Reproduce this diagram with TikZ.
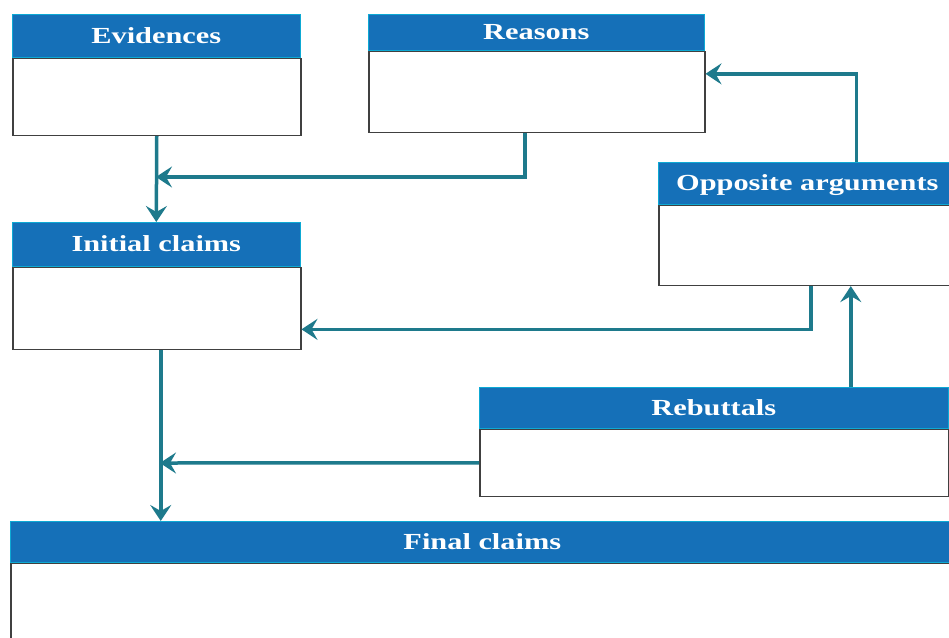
\documentclass[tikz,border=0pt]{standalone}
\usepackage{fontspec}
\setmainfont[FakeStretch=1.32]{Liberation Serif}
\usepackage{tikz}
\usetikzlibrary{arrows.meta, positioning, calc}

\definecolor{headblue}{RGB}{21,112,184}
\definecolor{linkteal}{RGB}{30,122,140}

\tikzset{
    head/.style={fill=headblue, draw=headblue!60!cyan, line width=0.6pt, text=white,
        font=\bfseries\fontsize{23}{27}\selectfont, text height=15pt, text depth=0pt,
        inner sep=0pt, anchor=north west},
    body/.style={fill=white, draw=black!75, line width=1.5pt, inner sep=0pt, anchor=north west},
    link/.style={draw=linkteal, line width=3.5pt,
        -{Stealth[length=16pt, width=21pt, inset=6pt]}}
}

\begin{document}
\begin{tikzpicture}[x=1pt, y=-1pt]
\useasboundingbox (0,0) rectangle (949,637);
\fill[white] (0,0) rectangle (949,637);
\clip (0,0) rectangle (949,637);

% boxes: header + body
\node[head, minimum width=288pt, minimum height=43pt] (evh) at (12,14) {Evidences};
\node[body, minimum width=288pt, minimum height=77pt] (evb) at (evh.south west) {};

\node[head, minimum width=336pt, minimum height=36pt] (reah) at (368,14) {Reasons};
\node[body, minimum width=336pt, minimum height=81pt] (reab) at (reah.south west) {};

\node[head, minimum width=298pt, minimum height=42pt] (opph) at (658,162) {Opposite arguments};
\node[body, minimum width=298pt, minimum height=80pt] (oppb) at (opph.south west) {};

\node[head, minimum width=288pt, minimum height=44pt] (inih) at (12,222) {Initial claims};
\node[body, minimum width=288pt, minimum height=82pt] (inib) at (inih.south west) {};

\node[head, minimum width=469pt, minimum height=41pt] (rebh) at (479,387) {Rebuttals};
\node[body, minimum width=469pt, minimum height=67pt] (rebb) at (rebh.south west) {};

\node[head, minimum width=944pt, minimum height=41pt] (finh) at (10,521) {Final claims};
\node[body, minimum width=944pt, minimum height=90pt] (finb) at (finh.south west) {};

% junctions on the vertical lines
\coordinate (j1) at (156,177);
\coordinate (j2) at (160,463);

% connectors
\draw[link] (evb.south) -- (inih.north);
\draw[link] ([xshift=-12pt]reab.south) |- (j1);
\draw[link] ([xshift=49pt]opph.north) |- ([yshift=18pt]reab.east);
\draw[link] ([xshift=3pt]oppb.south) |- ([yshift=-21pt]inib.east);
\draw[link] ([xshift=137pt]rebh.north) -- ([xshift=137pt]rebh.north |- oppb.south);
\draw[link] (rebb.west) -- (j2);
\draw[link] ([xshift=4pt]inib.south) -- ([xshift=4pt]inib.south |- finh.north);
\end{tikzpicture}
\end{document}
